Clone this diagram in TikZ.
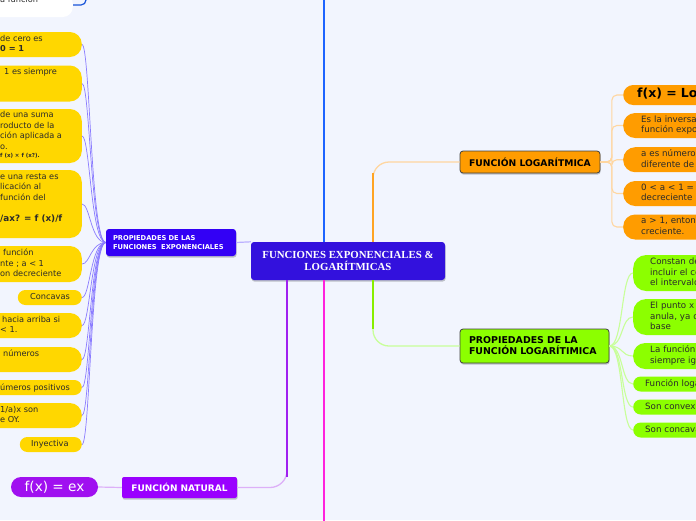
\documentclass[tikz,border=0pt]{standalone}
\usepackage{fontspec}
\setmainfont{DejaVu Sans}
\newfontfamily\titlefont{Liberation Serif}
\usetikzlibrary{shadows}
\definecolor{bg}{HTML}{F2F5FE}
\definecolor{yel}{HTML}{FFD700}
\definecolor{ora}{HTML}{FF9C00}
\definecolor{grn}{HTML}{8CFF00}
\definecolor{pur}{HTML}{9A00FF}
\definecolor{pur2}{HTML}{A010F0}
\definecolor{cen}{HTML}{3311DD}
\definecolor{lblue}{HTML}{3300F5}
\definecolor{txtc}{HTML}{2A2A2A}
\definecolor{blline}{HTML}{1E64FF}
\definecolor{magline}{HTML}{FF22DD}
\definecolor{orstrong}{HTML}{FFA424}
\definecolor{orpale}{HTML}{FFD6A0}
\definecolor{grstrong}{HTML}{88EE00}
\definecolor{grpale}{HTML}{C8FF99}
\definecolor{pustrong}{HTML}{A020F0}
\definecolor{pupale}{HTML}{DDB0F8}
\definecolor{lav}{HTML}{8A7BFF}
\definecolor{lavpale}{HTML}{BBB0FF}
\begin{document}
\begin{tikzpicture}[x=1pt,y=-1pt,
  tx/.style={anchor=west, align=left, inner sep=0pt, text=txtc,
    font=\fontsize{8.2}{10.5}\selectfont,
    execute at begin node=\strut, execute at end node=\strut},
  ybox/.style={fill=yel, rounded corners=12pt, anchor=east, minimum width=140pt, inner sep=0pt},
  ychild/.style={anchor=west, align=left, text width=200pt, inner ysep=0pt, text=txtc,
    font=\fontsize{8.7}{10.5}\selectfont,
    execute at begin node=\strut, execute at end node=\strut},
  ochild/.style={ychild, fill=ora, rounded corners=12pt},
  gchild/.style={ychild, fill=grn, rounded corners=12pt},
  sh/.style={drop shadow={shadow xshift=0.6pt, shadow yshift=-1.6pt, fill=black, opacity=0.22}},
  lline/.style={draw=lav, line width=0.7pt},
  oline/.style={draw=orpale, line width=1.1pt, rounded corners=5pt},
  gline/.style={draw=grpale, line width=1.1pt},
]
\useasboundingbox (0,0) rectangle (696,520);
\fill[bg] (0,0) rectangle (696,520);
\clip (0,0) rectangle (696,520);

% ---------- main lines ----------
\coordinate (bt) at (324,-10);
\coordinate (bb) at (324,530);
\coordinate (wt0) at (86,-10);

% ---------- centre ----------
\node[sh, fill=cen, rounded corners=3pt, minimum width=194pt, minimum height=38pt, inner sep=0pt,
  align=center, text=white, font=\titlefont\fontsize{10.8}{12}\selectfont\bfseries] (c) at (348,261)
  {FUNCIONES EXPONENCIALES \&\\LOGARÍTMICAS};

\draw[blline, line width=2.5pt] (bt) -- (bt |- c.north);
\draw[magline, line width=2.5pt] (bb) -- (bb |- c.south);

% ---------- logarithmic branch ----------
\node[sh, fill=ora, draw=black!75, line width=0.8pt, rounded corners=3pt, minimum width=140pt,
  minimum height=22pt, inner sep=0pt, font=\fontsize{9.2}{11}\selectfont\bfseries, text=black] (fl) at (530,162)
  {FUNCIÓN LOGARÍTMICA};
\draw[orpale, line width=1.3pt, rounded corners=16pt] ([xshift=25pt]c.north) |- (fl.west);
\draw[orstrong, line width=2pt] ([xshift=25pt]c.north) -- ([xshift=25pt]c.north |- fl.south);

\node[ochild, minimum height=20pt, inner xsep=14pt, rounded corners=10pt,
  font=\fontsize{12.5}{14}\selectfont\bfseries, text=black] (o1) at (623,95) {f(x) = Lo};
\node[ochild, minimum height=25pt, inner xsep=18pt] (o2) at (623,125.5) {Es la inversa\\función expo};
\node[ochild, minimum height=25pt, inner xsep=18pt] (o3) at (623,159.7) {a es número\\diferente de 1};
\node[ochild, minimum height=25pt, inner xsep=18pt] (o4) at (623,193.5) {0 < a < 1 =\\decreciente};
\node[ochild, minimum height=25pt, inner xsep=18pt] (o5) at (623,227) {a > 1, entonc\\creciente.};
\foreach \n in {o1,o2,o3,o4,o5}
  \draw[oline] (fl.east) -- ++(11.5,0) |- (\n.west);

% ---------- properties of log ----------
\node[sh, fill=grn, draw=black!75, line width=0.8pt, rounded corners=3pt, minimum width=149pt,
  minimum height=34pt, inner xsep=9pt, inner ysep=0pt, text width=131pt, align=left,
  font=\fontsize{9.4}{11}\selectfont\bfseries, text=black] (gl) at (534.5,346)
  {PROPIEDADES DE LA\\FUNCIÓN LOGARÍTIMICA};
\draw[grpale, line width=1.3pt, rounded corners=16pt] ([xshift=25pt]c.south) |- (gl.west);
\draw[grstrong, line width=2pt] ([xshift=25pt]c.south) -- ([xshift=25pt]c.south |- gl.north);

\node[gchild, minimum height=36pt, inner xsep=17pt, rounded corners=13pt] (g1) at (633,273) {Constan de\\incluir el ce\\el intervalo};
\node[gchild, minimum height=36pt, inner xsep=17pt, rounded corners=13pt] (g2) at (633,317) {El punto x\\anula, ya q\\base};
\node[gchild, minimum height=26pt, inner xsep=17pt] (g3) at (633,356) {La función\\siempre ig};
\node[gchild, minimum height=15pt, inner xsep=12pt, rounded corners=7.5pt] (g4) at (633,384) {Función loga};
\node[gchild, minimum height=15pt, inner xsep=12pt, rounded corners=7.5pt] (g5) at (633,407) {Son convexa};
\node[gchild, minimum height=15pt, inner xsep=12pt, rounded corners=7.5pt] (g6) at (633,430) {Son concava};
\foreach \n in {g1,g2,g3,g4,g5,g6}
  \draw[gline] (gl.east) .. controls +(14,0) and +(-12,0) .. (\n.west);

% ---------- natural function ----------
\node[sh, fill=pur, rounded corners=2pt, minimum width=115pt, minimum height=21pt, inner sep=0pt,
  text=white, font=\fontsize{9}{10}\selectfont\bfseries] (fn) at (179.5,487.5) {FUNCIÓN NATURAL};
\draw[pupale, line width=1.3pt, rounded corners=17pt] ([xshift=-61pt]c.south) |- (fn.east);
\draw[pustrong, line width=2.3pt] ([xshift=-61pt]c.south) -- ([xshift=-61pt]c.south |- fn.north);
\node[fill=pur2, rounded corners=10pt, minimum width=87pt, minimum height=20pt, inner sep=0pt,
  text=white, font=\fontsize{13.6}{15}\selectfont] (fx) at (54.5,487) {f(x) = ex};
\draw[pupale, line width=1.2pt] (fn.west) -- (fx.east);

% ---------- exponential properties ----------
\node[sh, fill=lblue, rounded corners=3pt, minimum width=130pt, minimum height=27pt, inner xsep=7pt,
  inner ysep=0pt, text width=116pt, align=left, text=white,
  font=\fontsize{6.7}{9}\selectfont\bfseries] (pe) at (171,242.5)
  {PROPIEDADES DE LAS\\FUNCIONES\ \ EXPONENCIALES};
\draw[lavpale, line width=1.2pt] (pe.east) -- (c.north west);

\node[ybox, minimum height=25pt] (e1) at (82,44.5) {};
\node[ybox, minimum height=36pt] (e2) at (82,83.5) {};
\node[ybox, minimum height=54pt] (e3) at (82,136) {};
\node[ybox, minimum height=68pt] (e4) at (82,204) {};
\node[ybox, minimum height=36pt] (e5) at (82,264) {};
\node[ybox, minimum height=15pt, minimum width=64pt, rounded corners=7.5pt] (e6) at (82,297.5) {};
\node[ybox, minimum height=25pt] (e7) at (82,325.5) {};
\node[ybox, minimum height=25pt] (e8) at (82,359.5) {};
\node[ybox, minimum height=15pt, rounded corners=7.5pt] (e9) at (82,387.5) {};
\node[ybox, minimum height=25pt] (e10) at (82,415.5) {};
\node[ybox, minimum height=15pt, minimum width=62pt, rounded corners=7.5pt] (e11) at (82,444.5) {};
\foreach \n in {e1,e2,e3,e4,e5,e6,e7,e8,e9,e10,e11}
  \draw[lline] (pe.west) .. controls +(-15,0) and +(8,0) .. (\n.east);

\node[tx] (e1t) at (0,45) {de cero es\\\textbf{0 = 1}};
\node[tx] (e2t) at (4,72) {1 es siempre};
\node[tx] (e3t) at (0,132) {de una suma\\roducto de la\\ción aplicada a\\o.};
\node[tx, font=\fontsize{5.5}{7}\selectfont\bfseries] (e3s) at (0,156) {f (x) × f (x?).};
\node[tx] (e4t) at (0,188.5) {e una resta es\\licación al\\función del};
\node[tx, font=\fontsize{8.8}{10}\selectfont\bfseries] (e4s) at (0,219) {/ax? = f (x)/f};
\node[tx] (e5t) at (0,264.5) {\hspace*{3pt}función\\nte ; a < 1\\on decreciente};
\node[tx] (e6t) at (30,297.5) {Concavas};
\node[tx] (e7t) at (0,326) {\hspace*{2pt}hacia arriba si\\< 1.};
\node[tx] (e8t) at (3,354) {números};
\node[tx] (e9t) at (0,388) {úmeros positivos};
\node[tx] (e10t) at (0,416) {1/a)x son\\e OY.};
\node[tx] (e11t) at (31,444.5) {Inyectiva};

% ---------- top-left white node ----------
\node[fill=white, rounded corners=10pt, anchor=east, minimum width=120pt, minimum height=24pt, inner sep=0pt] (w) at (73,5) {};
\node[tx, anchor=base west] (wt) at (0,2.5) {a función};
\draw[blline!85!black, line width=1.2pt, rounded corners=5pt] (wt0) |- (w.east);
\end{tikzpicture}
\end{document}
